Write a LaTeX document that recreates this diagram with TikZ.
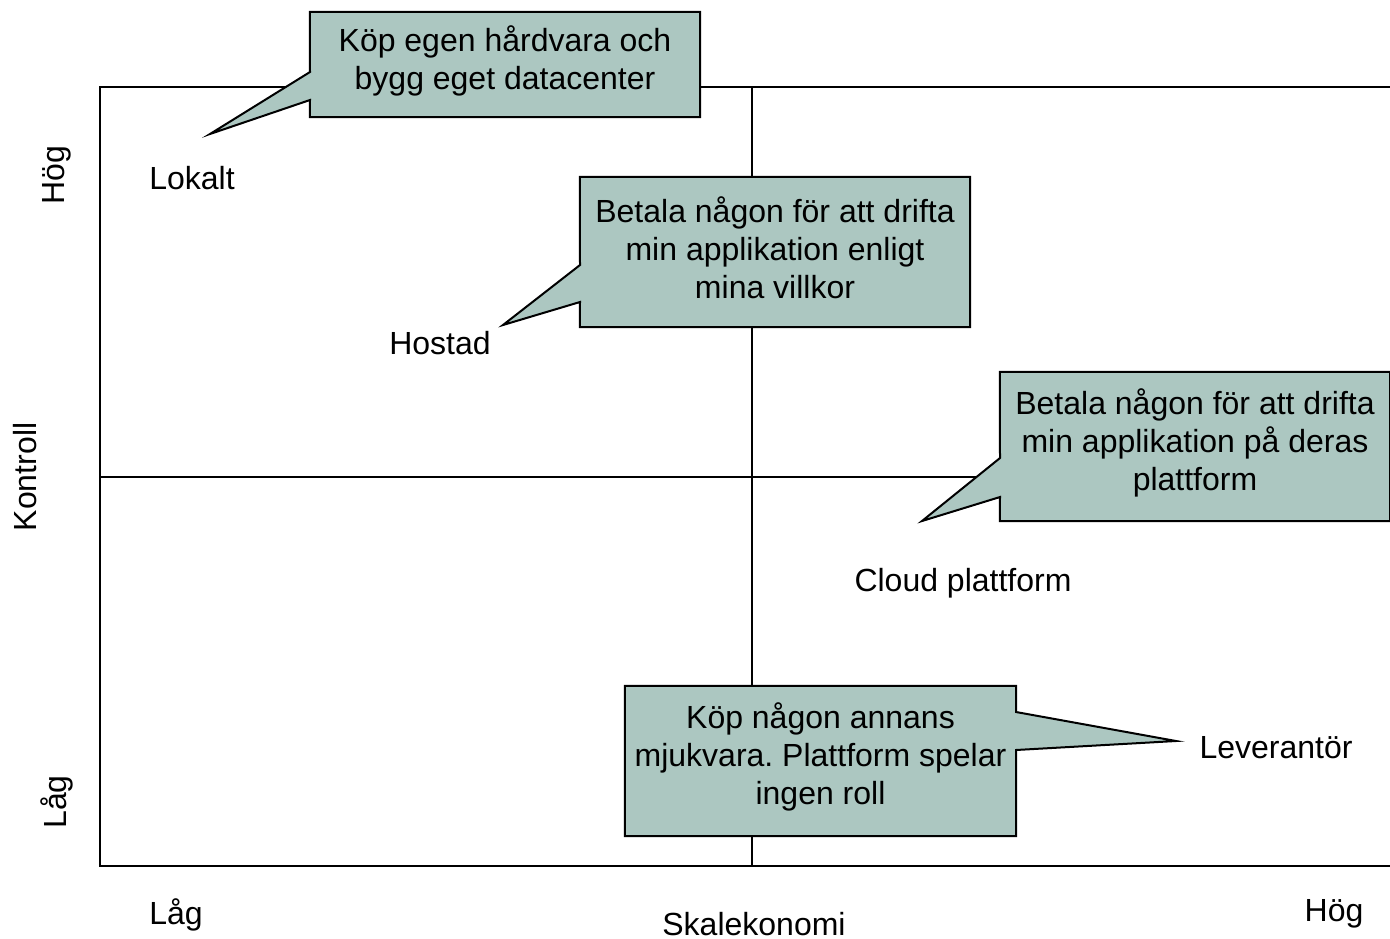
\documentclass[tikz,border=0pt]{standalone}
\usepackage{fontspec}
\setmainfont{Liberation Sans}
\usetikzlibrary{calc}
\definecolor{calloutfill}{RGB}{172,199,193}
\frenchspacing

\begin{document}
\begin{tikzpicture}[x=1pt, y=-1pt,
  every node/.style={font=\fontsize{32}{38}\selectfont},
  bubble/.style={inner sep=0pt, minimum width=390pt},
  bubbletext/.style={align=center, yshift=4pt},
  outline/.style={draw, line width=2pt, fill=calloutfill, line join=miter},
  frame/.style={line width=2pt}]
  \useasboundingbox (0,0) rectangle (1390,938);

  % Frame
  \draw[frame] (1392,87) -- (100,87) -- (100,866) -- (1392,866);
  \draw[frame] (752,87) -- (752,866);
  \draw[frame] (100,477) -- (1392,477);

  % Labels
  \node (lokalt) at (192,178) {Lokalt};
  \node (hostad) at (440,343) {Hostad};
  \node (cloud) at (963,583) {Cloud plattform};
  \node (leverantor) at (1276,748) {Leverantör};

  % Axis texts
  \node (y-high) [rotate=90] at (57,175) {Hög};
  \node (y-low) [rotate=90] at (57,802) {Låg};
  \node (y-name) [rotate=90] at (25,477) {Kontroll};
  \node (x-low) at (176,915) {Låg};
  \node (x-name) at (754,924) {Skalekonomi};
  \node (x-high) at (1334,914) {Hög};

  % Callouts
  \node (own) [bubble, minimum height=105pt] at (505,64.5) {};
  \coordinate (own-tip) at (210,134);
  \filldraw[outline] (own.north west) -- (own.north east) -- (own.south east) -- (own.south west)
    -- (310,100) -- (own-tip) -- (310,72) -- cycle;
  \node (own-text) [bubbletext] at (own.center) {Köp egen hårdvara och\\bygg eget datacenter};

  \node (host) [bubble, minimum height=150pt] at (775,252) {};
  \coordinate (host-tip) at (503,325);
  \filldraw[outline] (host.north west) -- (host.north east) -- (host.south east) -- (host.south west)
    -- (580,302) -- (host-tip) -- (580,265) -- cycle;
  \node (host-text) [bubbletext] at (host.center) {Betala någon för att drifta\\min applikation enligt\\mina villkor};

  \node (plat) [bubble, minimum height=149pt] at (1195,446.5) {};
  \coordinate (plat-tip) at (922,521);
  \filldraw[outline] (plat.north west) -- (plat.north east) -- (plat.south east) -- (plat.south west)
    -- (1000,497) -- (plat-tip) -- (1000,458) -- cycle;
  \node (plat-text) [bubbletext] at (plat.center) {Betala någon för att drifta\\min applikation på deras\\plattform};

  \node (soft) [bubble, minimum width=391pt, minimum height=150pt] at (820.5,761) {};
  \coordinate (soft-tip) at (1176,741);
  \filldraw[outline] (soft.north west) -- (soft.north east) -- (1016,712) -- (soft-tip) -- (1016,750)
    -- (soft.south east) -- (soft.south west) -- cycle;
  \node (soft-text) [bubbletext] at (soft.center) {Köp någon annans\\mjukvara. Plattform spelar\\ingen roll};
\end{tikzpicture}
\end{document}
